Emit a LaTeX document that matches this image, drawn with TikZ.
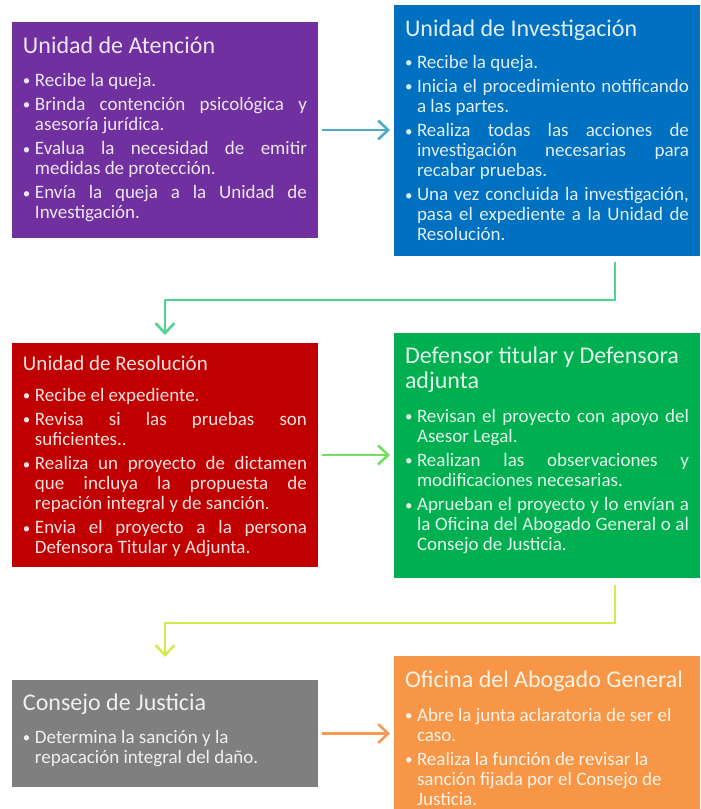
\documentclass[tikz,border=0pt]{standalone}
\usepackage{fontspec}
\setmainfont{Carlito}
\usetikzlibrary{arrows.meta}
\definecolor{violeta}{HTML}{7030A0}
\definecolor{azul}{HTML}{0070C0}
\definecolor{rojo}{HTML}{C00000}
\definecolor{verde}{HTML}{00B050}
\definecolor{gris}{HTML}{7F7F7F}
\definecolor{naranja}{HTML}{F79646}
\definecolor{turquesa}{HTML}{4BACC6}
\definecolor{menta}{HTML}{4ED48E}
\definecolor{lima}{HTML}{70E060}
\definecolor{pistacho}{HTML}{D2EC50}
\definecolor{salmon}{HTML}{F79A55}
\newcommand\punto{\par\hangindent=12pt\hangafter=1\noindent
  \makebox[12pt][l]{\raisebox{0.5pt}{\fontsize{15}{15}\selectfont\textbullet}}}
% #1 title size, #2 height, #3 top to title baseline, #4 gap, #5 title, #6 items
\newcommand\ficha[6][24]{%
  \parbox[t][#2pt][t]{284pt}{%
    \lineskiplimit=-\maxdimen \tolerance=10000 \hbadness=10000
    \fontsize{#1}{25}\selectfont\rule{0pt}{#3pt}#5\par
    \fontsize{19}{20}\selectfont\parskip=4.3pt\vspace*{#4pt}#6\par}}
\tikzset{
  unidad/.style={fill=#1, text=white!88!#1, anchor=north west,
    inner xsep=11pt, inner ysep=0pt, outer sep=0pt},
  flecha/.style={draw=#1, line width=2.6pt,
    -{Straight Barb[length=10pt,width=19pt]}, shorten <=4pt, shorten >=4pt}
}
\begin{document}
\begin{tikzpicture}[x=1pt, y=-1pt]
  \useasboundingbox (0,0) rectangle (701,809);
  \draw
    (12,22) node[unidad=violeta] (aten) {\ficha{216}{31}{8.7}{Unidad de Atención}{%
      \punto Recibe la queja.
      \punto Brinda contención psicológica y\linebreak asesoría jurídica.
      \punto Evalua la necesidad de emitir\linebreak medidas de protección.
      \punto Envía la queja a la Unidad de\linebreak Investigación.}}
    (394,5) node[unidad=azul] (inve) {\ficha{251}{31}{7.7}{Unidad de Investigación}{%
      \punto Recibe la queja.
      \punto Inicia el procedimiento notificando\linebreak a las partes.
      \punto Realiza todas las acciones de\linebreak investigación necesarias para\linebreak recabar pruebas.
      \punto Una vez concluida la investigación,\linebreak pasa el expediente a la Unidad de\linebreak Resolución.}}
    (12,343) node[unidad=rojo] (reso) {\ficha[21]{224}{27}{6.7}{Unidad de Resolución}{%
      \punto Recibe el expediente.
      \punto Revisa si las pruebas son\linebreak suficientes..
      \punto Realiza un proyecto de dictamen\linebreak que incluya la propuesta de\linebreak repación integral y de sanción.
      \punto Envia el proyecto a la persona\linebreak Defensora Titular y Adjunta.}}
    (394,333) node[unidad=verde] (defe) {\ficha{245}{30}{9.7}{Defensor titular y Defensora\newline adjunta}{%
      \punto Revisan el proyecto con apoyo del\linebreak Asesor Legal.
      \punto Realizan las observaciones y\linebreak modificaciones necesarias.
      \punto Aprueban el proyecto y lo envían a\linebreak la Oficina del Abogado General o al\linebreak Consejo de Justicia.}}
    (12,680) node[unidad=gris] (cons) {\ficha{107}{30}{8.7}{Consejo de Justicia}{%
      \punto Determina la sanción y la\newline repacación integral del daño.}}
    (394,656) node[unidad=naranja] (ofic) {\ficha{170}{31}{9.7}{Oficina del Abogado General}{%
      \punto Abre la junta aclaratoria de ser el\newline caso.
      \punto Realiza la función de revisar la\newline sanción fijada por el Consejo de\newline Justicia.}};
  \begin{scope}[line cap=butt]
    \draw[flecha=turquesa] (aten) -- (inve.west |- aten);
    \draw[flecha=menta, shorten <=6pt, shorten >=8pt]
      ([xshift=68pt]inve.south) -- ++(0,44) -| (reso.north);
    \draw[flecha=lima] (reso) -- (defe.west |- reso);
    \draw[flecha=pistacho, shorten <=7pt, shorten >=23pt]
      ([xshift=68pt]defe.south) -- ++(0,45) -| (cons.north);
    \draw[flecha=salmon] (cons) -- (ofic.west |- cons);
  \end{scope}
\end{tikzpicture}
\end{document}
